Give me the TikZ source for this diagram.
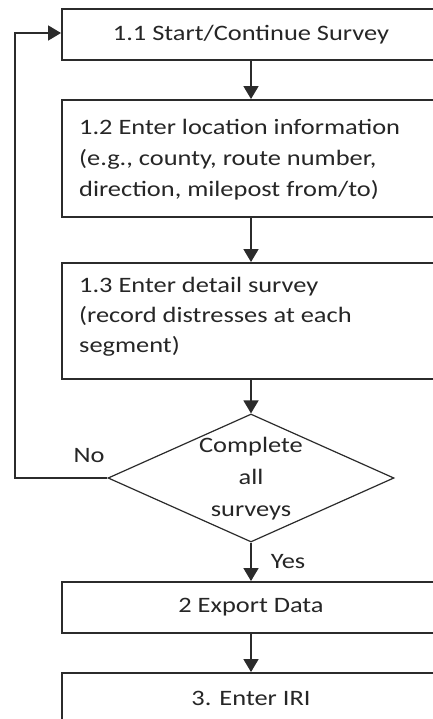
\documentclass[tikz,border=0pt]{standalone}
\usepackage{fontspec}
\setmainfont{Carlito}[FakeStretch=1.2]
\usetikzlibrary{arrows.meta,shapes.geometric}
\definecolor{ink}{HTML}{2B2B2B}
\definecolor{txt}{HTML}{262626}
\tikzset{
  box/.style={draw=ink, line width=1.9pt, minimum width=378pt, inner sep=0pt, text=txt},
  flow/.style={draw=ink, line width=1.6pt, -{Triangle[width=15pt,length=13pt]}},
  lbl/.style={text=txt, inner sep=0pt, font=\fontsize{22}{30}\selectfont},
}
\begin{document}
\begin{tikzpicture}[x=1pt,y=-1pt]
\useasboundingbox (0,0) rectangle (433,719);
\clip (0,0) rectangle (433,719);
\fill[white] (0,0) rectangle (433,719);
\node[box, minimum height=51pt, font=\fontsize{22}{30}\selectfont] (b11) at (251,34.5) {1.1 Start/Continue Survey};
\node[box, minimum height=117pt] (b12) at (251,158.5) {};
\node[lbl, anchor=west, align=left, font=\fontsize{22}{31}\selectfont] (t12) at (79,160) {1.2 Enter location information\\(e.g., county, route number,\\direction, milepost from/to)};
\node[box, minimum height=116pt] (b13) at (251,321) {};
\node[lbl, anchor=west, align=left, font=\fontsize{22}{30}\selectfont] (t13) at (79,317) {1.3 Enter detail survey\\(record distresses at each\\segment)};
\node[draw=ink, line width=1.2pt, shape=diamond, minimum width=286pt, minimum height=128pt, inner sep=0pt] (d) at (251,478) {};
\node[lbl, align=center, font=\fontsize{22}{32}\selectfont] (dt) at (251,479) {Complete\\all\\surveys};
\node[box, minimum height=51pt, font=\fontsize{22}{30}\selectfont] (b2) at (251,607.5) {2 Export Data};
\node[box, minimum height=51pt, font=\fontsize{22}{30}\selectfont] (b3) at (251,698.5) {3. Enter IRI};
\node[lbl] (no) at (89,456) {No};
\node[lbl] (yes) at (288,562) {Yes};
\coordinate (c1) at (15,478);
\coordinate (c2) at (15,33);
\draw[flow] (b11.south) -- (b12.north);
\draw[flow] (b12.south) -- (b13.north);
\draw[flow] (b13.south) -- (d.north);
\draw[flow] (d.south) -- (b2.north);
\draw[flow] (b2.south) -- (b3.north);
\draw[flow] (d.west) -- (c1) -- (c2) -- (b11.west |- c2);
\end{tikzpicture}
\end{document}
